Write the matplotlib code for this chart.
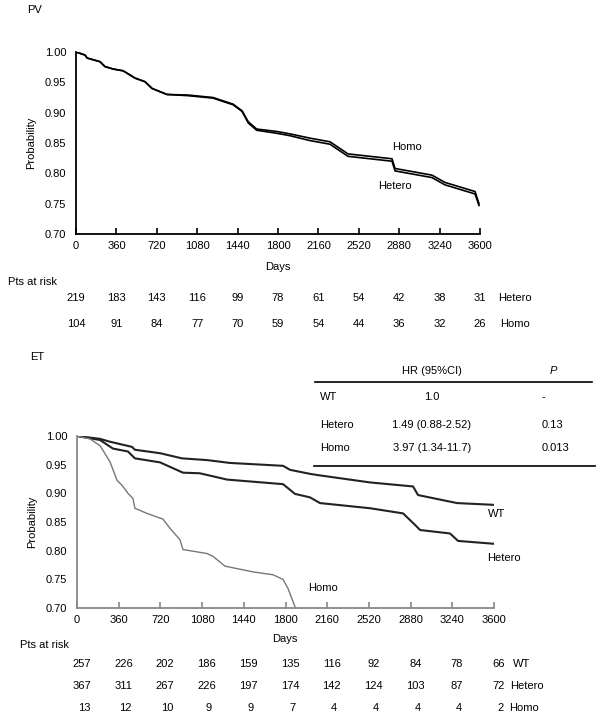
import matplotlib
matplotlib.use('Agg')
import matplotlib.pyplot as plt
from matplotlib.transforms import blended_transform_factory

plt.rcParams['font.family'] = ['Liberation Sans', 'DejaVu Sans']
plt.rcParams['font.size'] = 8

# PV panel: survival curves (days, probability)
pv_days = [0, 80, 100, 214, 258, 330, 420, 526, 615, 677, 810, 1000, 1220, 1400, 1480,
           1535, 1610, 1790, 1907, 2085, 2263, 2424, 2816, 2843, 3172, 3288, 3556, 3591]
pv_hetero = [1.000, 0.995, 0.990, 0.984, 0.976, 0.972, 0.969, 0.957, 0.951, 0.940, 0.930,
             0.928, 0.924, 0.913, 0.902, 0.883, 0.871, 0.866, 0.862, 0.854, 0.848, 0.828,
             0.820, 0.804, 0.793, 0.781, 0.766, 0.747]
pv_homo = [1.000, 0.995, 0.990, 0.984, 0.976, 0.972, 0.969, 0.957, 0.951, 0.940, 0.930,
           0.929, 0.925, 0.914, 0.903, 0.885, 0.873, 0.869, 0.865, 0.858, 0.852, 0.832,
           0.824, 0.808, 0.797, 0.785, 0.770, 0.750]
pv_risk_hetero = [219, 183, 143, 116, 99, 78, 61, 54, 42, 38, 31]
pv_risk_homo = [104, 91, 84, 77, 70, 59, 54, 44, 36, 32, 26]

# ET panel
et_wt_days = [0, 199, 285, 475, 500, 717, 906, 1122, 1321, 1779, 1839, 2011, 2072, 2530,
              2901, 2944, 3281, 3592]
et_wt = [1.000, 0.995, 0.990, 0.981, 0.976, 0.970, 0.961, 0.958, 0.953, 0.948, 0.941,
         0.934, 0.932, 0.919, 0.912, 0.897, 0.883, 0.880]
et_het_days = [0, 199, 311, 440, 500, 717, 915, 1060, 1295, 1779, 1882, 2011, 2098, 2530,
               2815, 2918, 2962, 3220, 3290, 3600]
et_het = [1.000, 0.993, 0.978, 0.973, 0.961, 0.954, 0.936, 0.935, 0.924, 0.916, 0.899,
          0.893, 0.883, 0.874, 0.865, 0.845, 0.836, 0.830, 0.817, 0.812]
et_homo_days = [0, 112, 199, 285, 345, 397, 440, 483, 500, 604, 742, 803, 889, 915, 1122,
                1174, 1278, 1519, 1692, 1778, 1822, 1882]
et_homo = [1.000, 0.995, 0.983, 0.955, 0.923, 0.912, 0.900, 0.891, 0.874, 0.865, 0.855,
           0.839, 0.819, 0.802, 0.795, 0.790, 0.773, 0.763, 0.758, 0.750, 0.734, 0.702]
et_risk_wt = [257, 226, 202, 186, 159, 135, 116, 92, 84, 78, 66]
et_risk_hetero = [367, 311, 267, 226, 197, 174, 142, 124, 103, 87, 72]
et_risk_homo = [13, 12, 10, 9, 9, 7, 4, 4, 4, 4, 2]

day_ticks = [0, 360, 720, 1080, 1440, 1800, 2160, 2520, 2880, 3240, 3600]
prob_ticks = [0.70, 0.75, 0.80, 0.85, 0.90, 0.95, 1.00]

hr_groups = ['WT', 'Hetero', 'Homo']
hr_values = ['1.0', '1.49 (0.88-2.52)', '3.97 (1.34-11.7)']
p_values = ['-', '0.13', '0.013']

W, H = 605, 722


# pixel -> figure fraction
def fx(px):
    return px / W


def fy(py):
    return 1 - py / H


def style_axes(ax, spine_color):
    ax.set_xlim(0, 3600)
    ax.set_ylim(0.70, 1.00)
    ax.set_xticks(day_ticks)
    ax.set_yticks(prob_ticks)
    ax.set_yticklabels(['%.2f' % v for v in prob_ticks])
    for s in ['top', 'right']:
        ax.spines[s].set_visible(False)
    for s in ['left', 'bottom']:
        ax.spines[s].set_color(spine_color)
        ax.spines[s].set_linewidth(1.3)
    ax.tick_params(axis='x', direction='in', length=4, width=1.2, pad=5, colors=spine_color,
                   labelcolor='black')
    ax.tick_params(axis='y', length=0, pad=7)
    ax.set_ylabel('Probability', labelpad=6)


fig = plt.figure(figsize=(W / 100, H / 100), dpi=100)

# ---- PV ----
ax1 = fig.add_axes([fx(76), fy(234), fx(480) - fx(76), fy(52) - fy(234)])
style_axes(ax1, 'black')
ax1.plot(pv_days, pv_hetero, color='black', lw=1.2)
ax1.plot(pv_days, pv_homo, color='black', lw=1.2)
fig.text(fx(35), fy(10), 'PV', ha='center', va='center')
fig.text(fx(392), fy(147), 'Homo', ha='left', va='center')
fig.text(fx(378), fy(186), 'Hetero', ha='left', va='center')
fig.text(fx(278), fy(267), 'Days', ha='center', va='center')
fig.text(fx(8), fy(282), 'Pts at risk', ha='left', va='center')

tr1 = blended_transform_factory(ax1.transData, fig.transFigure)
for d, a, b in zip(day_ticks, pv_risk_hetero, pv_risk_homo):
    ax1.text(d, fy(298), str(a), transform=tr1, ha='center', va='center')
    ax1.text(d, fy(324), str(b), transform=tr1, ha='center', va='center')
fig.text(fx(498), fy(298), 'Hetero', ha='left', va='center')
fig.text(fx(500), fy(324), 'Homo', ha='left', va='center')

# ---- ET ----
ax2 = fig.add_axes([fx(77), fy(608), fx(494) - fx(77), fy(436) - fy(608)])
style_axes(ax2, '#888888')
ax2.plot(et_wt_days, et_wt, color='#222222', lw=1.5)
ax2.plot(et_het_days, et_het, color='#222222', lw=1.5)
ax2.plot(et_homo_days, et_homo, color='#777777', lw=1.0)
fig.text(fx(37), fy(357), 'ET', ha='center', va='center')
fig.text(fx(488), fy(514), 'WT', ha='left', va='center')
fig.text(fx(487), fy(558), 'Hetero', ha='left', va='center')
fig.text(fx(308), fy(588), 'Homo', ha='left', va='center')
fig.text(fx(285), fy(639), 'Days', ha='center', va='center')
fig.text(fx(20), fy(645), 'Pts at risk', ha='left', va='center')

tr2 = blended_transform_factory(ax2.transData, fig.transFigure)
for d, a, b, c in zip(day_ticks, et_risk_wt, et_risk_hetero, et_risk_homo):
    ax2.text(d + 40, fy(664), str(a), transform=tr2, ha='center', va='center')
    ax2.text(d + 40, fy(686), str(b), transform=tr2, ha='center', va='center')
    ax2.text(d + 60, fy(708), str(c), transform=tr2, ha='center', va='center')
fig.text(fx(513), fy(664), 'WT', ha='left', va='center')
fig.text(fx(510), fy(686), 'Hetero', ha='left', va='center')
fig.text(fx(509), fy(708), 'Homo', ha='left', va='center')

# HR table
fig.add_artist(plt.Line2D([fx(315), fx(592)], [fy(382), fy(382)], color='black', lw=1.2))
fig.add_artist(plt.Line2D([fx(314), fx(595)], [fy(466), fy(466)], color='black', lw=1.2))
fig.text(fx(432), fy(371), 'HR (95%CI)', ha='center', va='center')
fig.text(fx(553), fy(371), 'P', ha='center', va='center', style='italic')
for i, (g, hr, p) in enumerate(zip(hr_groups, hr_values, p_values)):
    y = fy([397, 425, 448][i])
    fig.text(fx(320), y, g, ha='left', va='center')
    fig.text(fx(432), y, hr, ha='center', va='center')
    fig.text(fx(542), y, p, ha='left', va='center')

fig.savefig('out.png', dpi=100, facecolor='white')
